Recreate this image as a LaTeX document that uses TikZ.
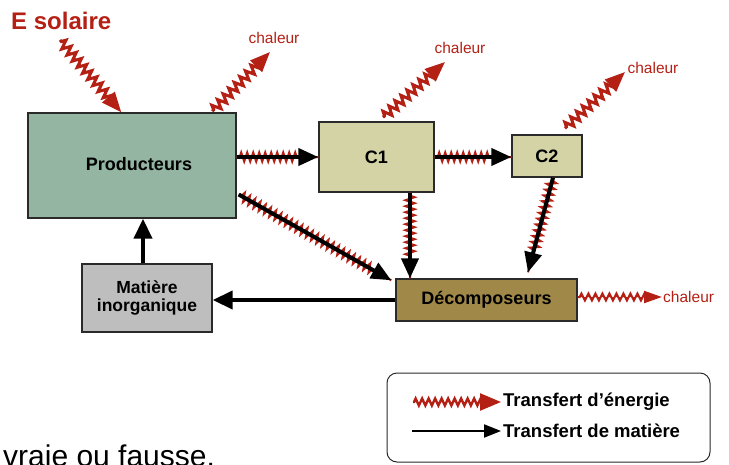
\documentclass[tikz,border=0pt]{standalone}
\usepackage{fontspec}
\setmainfont{Liberation Sans}
\usetikzlibrary{arrows.meta,decorations.pathmorphing,calc}
\definecolor{ered}{HTML}{B52015}
\definecolor{prodg}{HTML}{93B5A2}
\definecolor{consy}{HTML}{D3D3A6}
\definecolor{decb}{HTML}{A08848}
\definecolor{matg}{HTML}{BEBEBE}
\definecolor{frame}{HTML}{2A2A2A}
\begin{document}
\begin{tikzpicture}[x=1pt,y=-1pt,
  box/.style={draw=frame, line width=1.4pt, rectangle, inner sep=0pt, align=center,
    font=\bfseries\fontsize{18}{19}\selectfont},
  heat/.style={text=ered, inner sep=1pt, font=\fontsize{15.5}{15.5}\selectfont},
  energy/.style={draw=ered, line width=3pt, decorate,
    decoration={zigzag, segment length=8pt, amplitude=4.5pt, pre length=2pt, post length=16pt},
    -{Triangle[length=20pt,width=16pt]}, fill=ered},
  smallenergy/.style={draw=ered, line width=2pt, decorate,
    decoration={zigzag, segment length=7pt, amplitude=3.5pt, pre length=2pt, post length=14pt},
    -{Triangle[length=18pt,width=12pt]}, fill=ered},
  mixed/.style={draw=black, line width=4pt, -{Triangle[length=20pt,width=17pt]},
    preaction={draw=ered, line width=2pt, arrows=-, decorate,
      decoration={zigzag, segment length=6pt, amplitude=4.5pt, pre length=3pt, post length=20pt}}},
  matter/.style={draw=black, line width=4pt, -{Triangle[length=20pt,width=18pt]}},
  thinmatter/.style={draw=black, line width=2pt, -{Triangle[length=17pt,width=13pt]}},
  legtext/.style={anchor=west, inner sep=0pt, font=\bfseries\fontsize{18.5}{18.5}\selectfont}
]
\useasboundingbox (0,0) rectangle (729,464);

% title
\node[anchor=west, inner sep=0pt, text=ered, font=\bfseries\fontsize{24}{26}\selectfont] (esol) at (11,21) {E solaire};

% boxes
\node[box, fill=prodg, minimum width=208, minimum height=105] (prod) at (132,165.5) {\raisebox{4pt}{\hspace{14pt}Producteurs}};
\node[box, fill=consy, minimum width=115, minimum height=70] (c1) at (376.5,157) {\raisebox{-2pt}{C1}};
\node[box, fill=consy, minimum width=70, minimum height=42] (c2) at (547,156) {C2};
\node[box, fill=decb, minimum width=181, minimum height=42] (dec) at (486.5,300) {\raisebox{4pt}{Décomposeurs}};
\node[box, fill=matg, minimum width=130, minimum height=68, font=\bfseries\fontsize{17.5}{18.5}\selectfont] (mat) at (147,298) {Matière\\inorganique};

% heat labels
\node[heat] (h1) at (274,38) {chaleur};
\node[heat] (h2) at (460,48) {chaleur};
\node[heat] (h3) at (653,68) {chaleur};
\node[heat, anchor=west] (h4) at (662,297) {chaleur};

% coordinates
\coordinate (sun) at (60,40);
\coordinate (sunend) at ($(prod.north west)+(94,0)$);
\coordinate (p0) at ($(prod.north west)+(185,-1)$);
\coordinate (p1) at (270,52);
\coordinate (q0) at ($(c1.north)+(6.5,-4)$);
\coordinate (q1) at (445,62);
\coordinate (r0) at ($(c2.north)+(18,-6)$);
\coordinate (r1) at (625,72);
\coordinate (d0) at ($(dec.east)+(0,-3)$);
\coordinate (c1d) at ($(c1.south)+(33.5,0)$);
\coordinate (m1) at ($(mat.north)+(-4,0)$);

% energy arrows
\draw[energy] (sun) -- (sunend);
\draw[energy] (p0) -- (p1);
\draw[energy] (q0) -- (q1);
\draw[energy] (r0) -- (r1);
\draw[smallenergy] (d0) -- (d0 -| h4.west);

% mixed arrows
\draw[mixed] (prod.east |- c1.west) -- (c1.west);
\draw[mixed] (c1.east) -- (c1.east -| c2.west);
\draw[mixed] ($(prod.east)+(2,29)$) -- ($(dec.north west)+(-4,2)$);
\draw[mixed] (c1d) -- (c1d |- dec.north);
\draw[mixed] ($(c2.south)+(6,0)$) -- ($(dec.north)+(41.5,-6)$);

% matter arrows
\draw[matter] (dec.west) -- (dec.west -| mat.east);
\draw[matter] (m1) -- (m1 |- prod.south);

% legend
\node[draw=frame, line width=1pt, rounded corners=10pt, minimum width=323, minimum height=89, inner sep=0pt] (leg) at (548.5,417.5) {};
\coordinate (la) at (413,402);
\coordinate (lb) at (501,402);
\coordinate (lc) at (412,431);
\coordinate (ld) at (501,431);
\draw[energy, line width=2.4pt, decoration={zigzag, segment length=6.5pt, amplitude=3.5pt, pre length=1pt, post length=16pt}, -{Triangle[length=21pt,width=17pt]}] (la) -- (lb);
\draw[thinmatter] (lc) -- (ld);
\node[legtext] (t1) at (503,402) {Transfert d'énergie};
\node[legtext] (t2) at (503,431) {Transfert de matière};

% bottom text (cut at the lower edge, as in the reference)
\node[anchor=base west, inner sep=0pt, font=\fontsize{30}{30}\selectfont] (vf) at (3,466) {vraie ou fausse.};
\end{tikzpicture}
\end{document}
